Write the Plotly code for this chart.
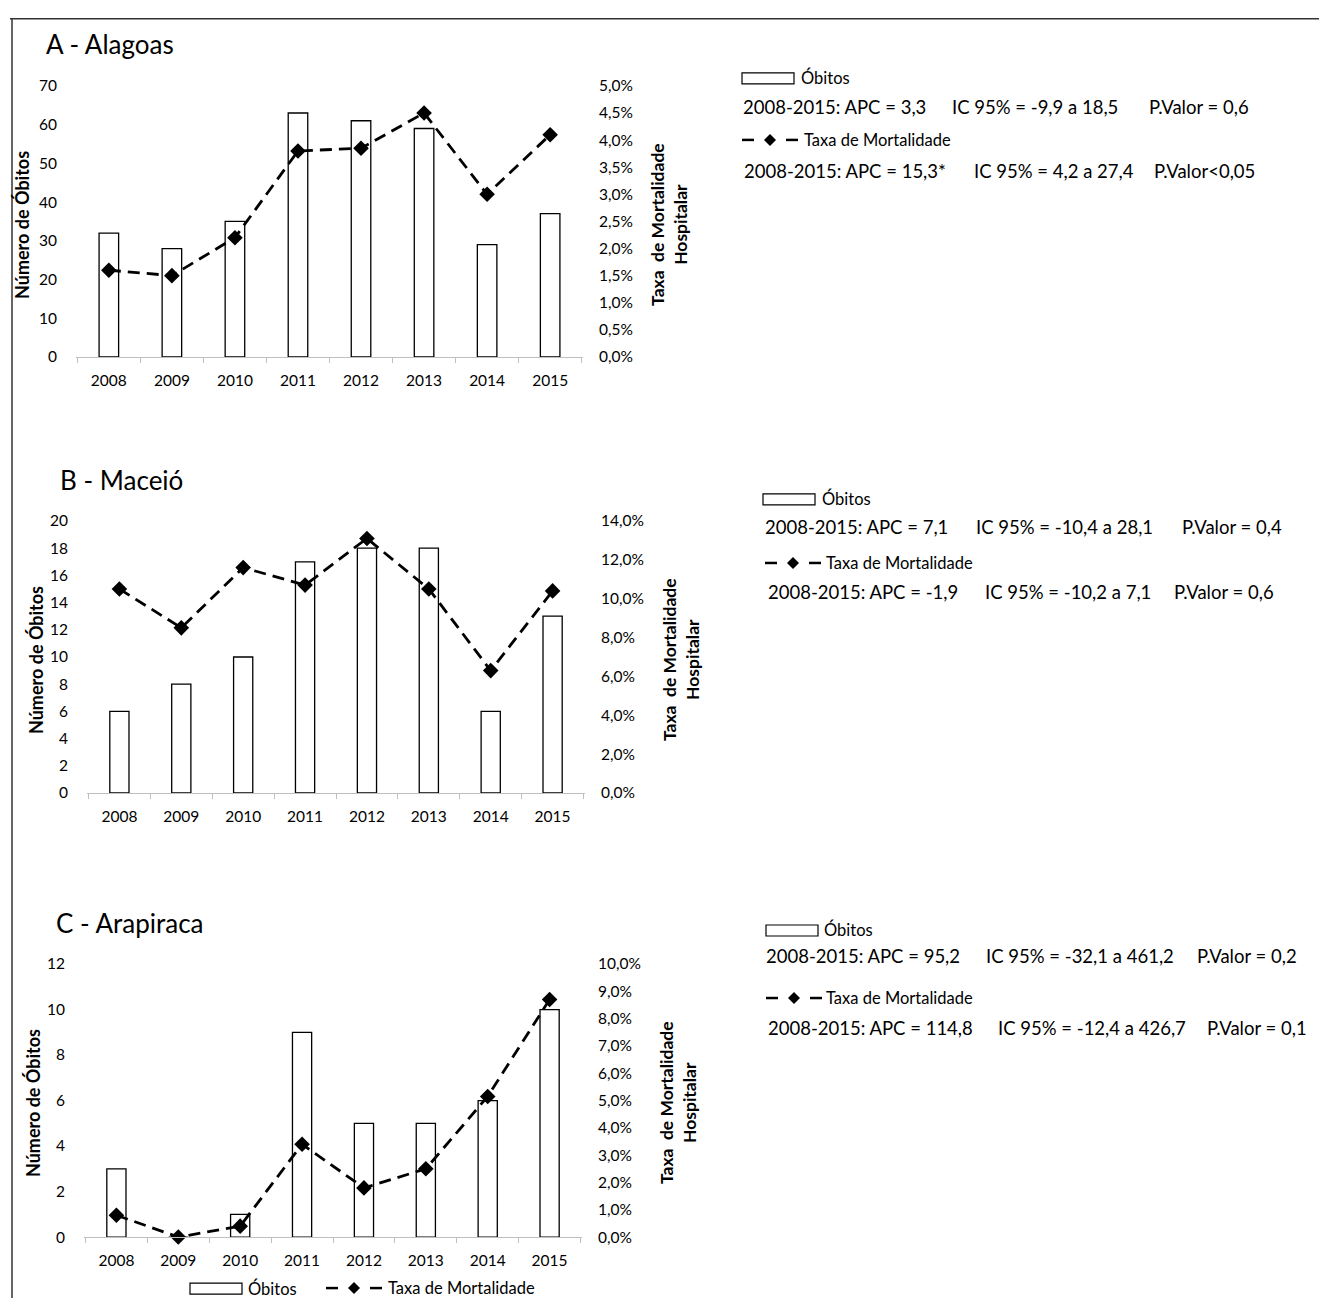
import plotly.graph_objects as go

# page body has an 8px margin; keep figure inside the viewport
OX = 8
W, H = 1311, 1298
# measured vertical placement of the figure in the photographed page
OY, SY = 18.1, 0.986

years = ["2008", "2009", "2010", "2011", "2012", "2013", "2014", "2015"]

# Panel A - Alagoas
obitos_A = [32, 28, 35, 63, 61, 59, 29, 37]
taxa_A = [1.6, 1.5, 2.2, 3.8, 3.85, 4.5, 3.0, 4.1]
# Panel B - Maceió
obitos_B = [6, 8, 10, 17, 18, 18, 6, 13]
taxa_B = [10.5, 8.5, 11.6, 10.7, 13.1, 10.5, 6.3, 10.4]
# Panel C - Arapiraca
obitos_C = [3, 0, 1, 9, 5, 5, 6, 10]
taxa_C = [0.8, 0.0, 0.4, 3.4, 1.8, 2.5, 5.15, 8.7]

titles = ["A - Alagoas", "B - Maceió", "C - Arapiraca"]
stats_obitos = [
    ["2008-2015: APC = 3,3", "IC 95% = -9,9 a 18,5", "P.Valor = 0,6"],
    ["2008-2015: APC = 7,1", "IC 95% = -10,4 a 28,1", "P.Valor = 0,4"],
    ["2008-2015: APC = 95,2", "IC 95% = -32,1 a 461,2", "P.Valor = 0,2"],
]
stats_taxa = [
    ["2008-2015: APC = 15,3*", "IC 95% = 4,2 a 27,4", "P.Valor<0,05"],
    ["2008-2015: APC = -1,9", "IC 95% = -10,2 a 7,1", "P.Valor = 0,6"],
    ["2008-2015: APC = 114,8", "IC 95% = -12,4 a 426,7", "P.Valor = 0,1"],
]

FONT = "Lato"
TICK = 15.5

def X(px):
    return (px - OX) / W

def Y(py):
    f = (py - OY) / SY
    f = max(f, 0.75)
    return 1 - f / H

panels = [
    dict(obitos=obitos_A, taxa=taxa_A, x0=76, x1=583, ytop=86, ybot=357,
         lmax=70, ldt=10, rmax=5, rdt=0.5,
         title=(44, 44), ltitle=(22, 225), rtitle=(669, 225),
         leg=dict(rect=(742, 73), obitos_txt=(799, 78),
                  line1=(107, [741, 950, 1147]), dash=(742, 140), taxa_txt=(802, 140),
                  line2=(171, [742, 972, 1152]))),
    dict(obitos=obitos_B, taxa=taxa_B, x0=87, x1=585, ytop=521, ybot=793,
         lmax=20, ldt=2, rmax=14, rdt=2,
         title=(58, 480), ltitle=(36, 660), rtitle=(681, 660),
         leg=dict(rect=(763, 494), obitos_txt=(820, 499),
                  line1=(527, [763, 974, 1180]), dash=(765, 563), taxa_txt=(824, 563),
                  line2=(592, [766, 983, 1172]))),
    dict(obitos=obitos_C, taxa=taxa_C, x0=84, x1=582, ytop=964, ybot=1237,
         lmax=12, ldt=2, rmax=10, rdt=1,
         title=(54, 923), ltitle=(33, 1103), rtitle=(678, 1103),
         leg=dict(rect=(766, 925), obitos_txt=(822, 929),
                  line1=(956, [764, 984, 1195]), dash=(766, 998), taxa_txt=(824, 998),
                  line2=(1028, [766, 996, 1205]))),
]

fig = go.Figure()
layout = dict(
    width=W, height=H, margin=dict(l=0, r=0, t=0, b=0),
    paper_bgcolor="white", plot_bgcolor="white", showlegend=False,
    separators=",.", font=dict(family=FONT, color="black"),
)
annotations = []
shapes = []

def txt(text, x, y, size, anchor="left", angle=0):
    annotations.append(dict(text=text, x=X(x), y=Y(y), xref="paper", yref="paper",
                            xanchor=anchor, yanchor="middle", textangle=angle,
                            showarrow=False, font=dict(size=size, family=FONT, color="black")))

def add_dash_glyph(x, y):
    shapes.append(dict(type="line", xref="paper", yref="paper", x0=X(x), x1=X(x + 12), y0=Y(y), y1=Y(y),
                       line=dict(color="black", width=2.5)))
    cx = x + 28
    d = 6
    shapes.append(dict(type="path", xref="paper", yref="paper",
                       path=f"M {X(cx - d)},{Y(y)} L {X(cx)},{Y(y - d)} L {X(cx + d)},{Y(y)} L {X(cx)},{Y(y + d)} Z",
                       fillcolor="black", line=dict(color="black", width=0)))
    shapes.append(dict(type="line", xref="paper", yref="paper", x0=X(x + 44), x1=X(x + 56), y0=Y(y), y1=Y(y),
                       line=dict(color="black", width=2.5)))

def add_rect_glyph(x, y):
    shapes.append(dict(type="rect", xref="paper", yref="paper", x0=X(x), x1=X(x + 52), y0=Y(y), y1=Y(y + 11),
                       fillcolor="white", line=dict(color="black", width=1.2)))

for i, p in enumerate(panels):
    n = i + 1
    xa = "x" if n == 1 else f"x{n}"
    ya_name = "y" if n == 1 else f"y{2 * n - 1}"
    yb = f"y{2 * n}"
    xkey = "xaxis" if n == 1 else f"xaxis{n}"
    yakey = "yaxis" if n == 1 else f"yaxis{2 * n - 1}"
    ybkey = f"yaxis{2 * n}"

    fig.add_trace(go.Bar(x=years, y=p["obitos"], xaxis=xa, yaxis=ya_name,
                         marker=dict(color="white", line=dict(color="black", width=1.3)),
                         width=0.31, name="Óbitos"))
    fig.add_trace(go.Scatter(x=years, y=p["taxa"], xaxis=xa, yaxis=yb, mode="lines+markers",
                             line=dict(color="black", width=2.8, dash="12px,7px"),
                             marker=dict(symbol="diamond", size=12, color="black"),
                             name="Taxa de Mortalidade", cliponaxis=False))

    layout[xkey] = dict(domain=[X(p["x0"]), X(p["x1"])], anchor=ya_name, type="category",
                        showline=True, linecolor="#bfbfbf", linewidth=1,
                        ticks="outside", tickson="boundaries", ticklen=5, tickcolor="#bfbfbf",
                        tickfont=dict(size=TICK, family=FONT), showgrid=False, zeroline=False,
                        ticklabelstandoff=9)
    layout[yakey] = dict(domain=[Y(p["ybot"]), Y(p["ytop"])], anchor=xa, range=[0, p["lmax"]],
                         dtick=p["ldt"], tick0=0, showgrid=False, zeroline=False, showline=False,
                         tickfont=dict(size=TICK, family=FONT), ticklabelstandoff=18)
    layout[ybkey] = dict(domain=[Y(p["ybot"]), Y(p["ytop"])], anchor=xa, overlaying=ya_name, side="right",
                         range=[0, p["rmax"]], dtick=p["rdt"], tick0=0, tickformat=".1f", ticksuffix="%",
                         showgrid=False, zeroline=False, showline=False,
                         tickfont=dict(size=TICK, family=FONT), ticklabelstandoff=15)

    txt(titles[i], p["title"][0], p["title"][1], 26)
    txt("<b>Número de Óbitos</b>", p["ltitle"][0], p["ltitle"][1], 18, anchor="center", angle=-90)
    txt("<b>Taxa  de Mortalidade<br>Hospitalar</b>", p["rtitle"][0], p["rtitle"][1], 17.5, anchor="center", angle=-90)

    lg = p["leg"]
    add_rect_glyph(*lg["rect"])
    txt("Óbitos", lg["obitos_txt"][0], lg["obitos_txt"][1], 16.5)
    y1, xs1 = lg["line1"]
    for s, xx in zip(stats_obitos[i], xs1):
        txt(s, xx, y1, 18.5)
    add_dash_glyph(*lg["dash"])
    txt("Taxa de Mortalidade", lg["taxa_txt"][0], lg["taxa_txt"][1], 16.5)
    y2, xs2 = lg["line2"]
    for s, xx in zip(stats_taxa[i], xs2):
        txt(s, xx, y2, 18.5)

# bottom legend (kept just inside the figure's lower edge)
LEG_Y = 1288
add_rect_glyph(190, LEG_Y - 5)
txt("Óbitos", 246, LEG_Y, 16.5)
add_dash_glyph(326, LEG_Y)
txt("Taxa de Mortalidade", 386, LEG_Y, 16.5)

# frame
shapes.append(dict(type="line", xref="paper", yref="paper", x0=X(10), x1=1, y0=Y(15), y1=Y(15),
                   line=dict(color="#333333", width=1.5)))
shapes.append(dict(type="line", xref="paper", yref="paper", x0=X(12), x1=X(12), y0=Y(15), y1=0,
                   line=dict(color="#333333", width=1.5)))

layout["annotations"] = annotations
layout["shapes"] = shapes
fig.update_layout(**layout)
fig.write_html("out.html")
